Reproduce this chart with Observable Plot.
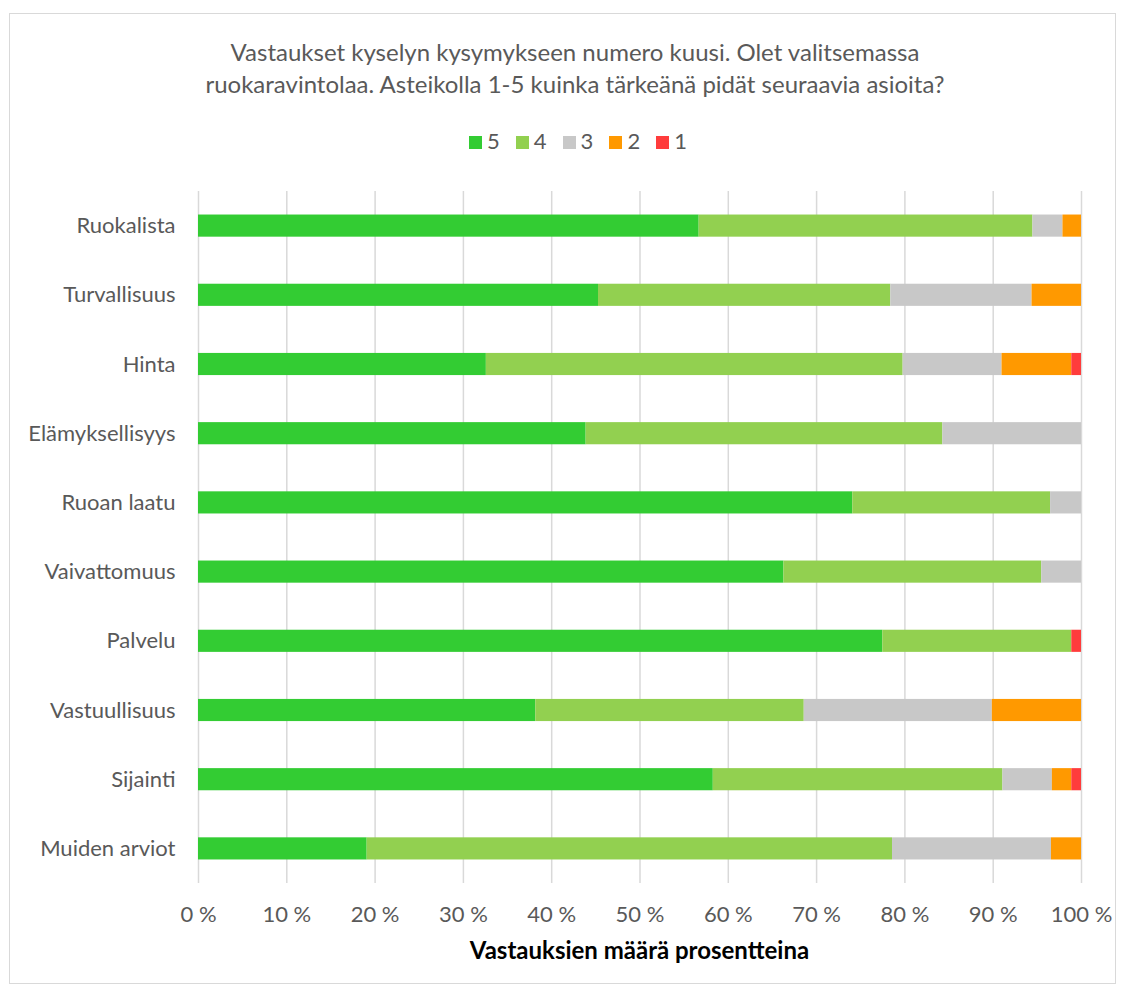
<!DOCTYPE html>
<html>
<head>
<meta charset="utf-8">
<script src="https://cdn.jsdelivr.net/npm/d3@7"></script>
<script src="https://cdn.jsdelivr.net/npm/@observablehq/plot@0.6"></script>
<style>
  html, body { margin: 0; padding: 0; background: #fff; }
  #chart { position: relative; width: 1127px; height: 992px; font-family: Lato, "Open Sans", sans-serif; color: #595959; }
  #frame { position: absolute; left: 9px; top: 13px; width: 1107px; height: 971px; border: 1px solid #d9d9d9; box-sizing: border-box; }
  #title { position: absolute; left: 0; width: 1150px; top: 36px; text-align: center; font-size: 24px; line-height: 32px; color: #595959; }
  #legend { position: absolute; left: 0; width: 1156px; top: 127px; text-align: center; font-size: 22px; line-height: 28px; color: #595959; }
  #legend span.item { display: inline-block; margin: 0 8px; }
  #legend span.sw { display: inline-block; width: 13px; height: 13px; margin-right: 5px; vertical-align: 0px; }
  #plot { position: absolute; left: 0; top: 160px; }
  #xtitle { position: absolute; left: 198px; width: 883px; top: 935px; text-align: center; font-size: 24px; line-height: 30px; font-weight: bold; color: #000; }
</style>
</head>
<body>
<div id="chart">
  <div id="frame"></div>
  <div id="title">Vastaukset kyselyn kysymykseen numero kuusi. Olet valitsemassa<br>ruokaravintolaa. Asteikolla 1-5 kuinka tärkeänä pidät seuraavia asioita?</div>
  <div id="legend"></div>
  <div id="plot"></div>
  <div id="xtitle">Vastauksien määrä prosentteina</div>
</div>
<script>
const categories = ["Ruokalista", "Turvallisuus", "Hinta", "Elämyksellisyys", "Ruoan laatu", "Vaivattomuus", "Palvelu", "Vastuullisuus", "Sijainti", "Muiden arviot"];
const levels = ["5", "4", "3", "2", "1"];
const levelColors = ["#33cc33", "#92d050", "#c8c8c8", "#ff9900", "#ff3c3c"];
const v5 = [56.7, 45.3, 32.6, 43.9, 74.1, 66.3, 77.5, 38.2, 58.3, 19.1];
const v4 = [37.8, 33.1, 47.2, 40.4, 22.4, 29.2, 21.4, 30.4, 32.8, 59.5];
const v3 = [3.4, 16.0, 11.2, 15.7, 3.5, 4.5, 0, 21.3, 5.6, 18.0];
const v2 = [2.1, 5.6, 7.9, 0, 0, 0, 0, 10.1, 2.2, 3.4];
const v1 = [0, 0, 1.1, 0, 0, 0, 1.1, 0, 1.1, 0];
const xTicks = [0, 10, 20, 30, 40, 50, 60, 70, 80, 90, 100];

const series = {"5": v5, "4": v4, "3": v3, "2": v2, "1": v1};
const rows = [];
for (const lv of levels) {
  categories.forEach((c, i) => rows.push({category: c, level: lv, value: series[lv][i]}));
}

// legend
const legend = document.getElementById("legend");
levels.forEach((lv, i) => {
  const item = document.createElement("span");
  item.className = "item";
  item.innerHTML = `<span class="sw" style="background:${levelColors[i]}"></span>${lv}`;
  legend.appendChild(item);
});

const chart = Plot.plot({
  width: 1127,
  height: 832,
  marginTop: 31,
  marginBottom: 109,
  marginLeft: 198,
  marginRight: 46,
  style: {fontFamily: "Lato, 'Open Sans', sans-serif", fontSize: "22px", color: "#595959", background: "transparent"},
  x: {domain: [0, 100], ticks: xTicks, label: null},
  y: {domain: categories, paddingInner: 0.68, paddingOuter: 0.34, round: false, label: null},
  color: {domain: levels, range: levelColors},
  marks: [
    Plot.gridX(xTicks, {stroke: "#d9d9d9", strokeOpacity: 1, strokeWidth: 1.5}),
    Plot.barX(rows, Plot.stackX({x: "value", y: "category", fill: "level", order: levels})),
    Plot.axisX({ticks: xTicks, tickFormat: d => d + " %", tickSize: 0, tickPadding: 23, label: null, fontSize: 22}),
    Plot.axisY({tickSize: 0, tickPadding: 23, label: null, fontSize: 22})
  ]
});
document.getElementById("plot").appendChild(chart);
</script>
</body>
</html>
